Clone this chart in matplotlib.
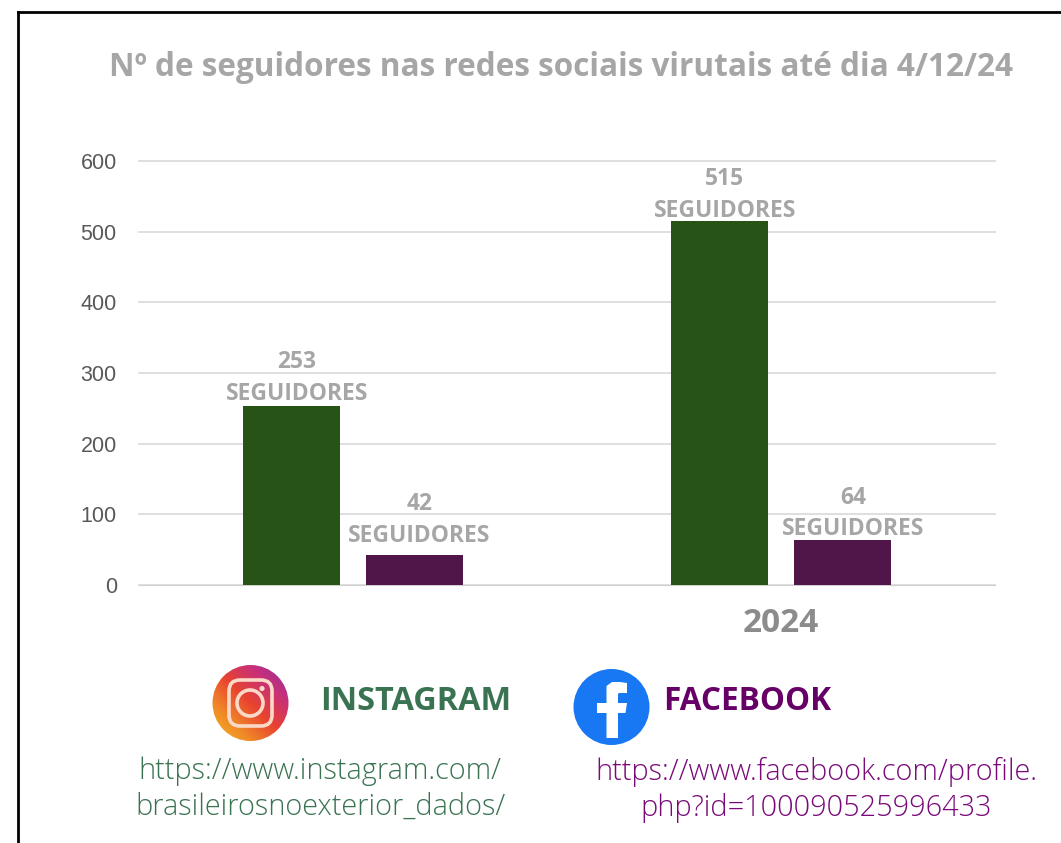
import numpy as np
import matplotlib
matplotlib.use('Agg')
import matplotlib.pyplot as plt
from matplotlib.patches import Circle, FancyBboxPatch, PathPatch
from matplotlib.path import Path
from matplotlib.colors import LinearSegmentedColormap

W, H = 1061, 843

instagram = [253, 515]
facebook = [42, 64]
labels_insta = ['253\nSEGUIDORES', '515\nSEGUIDORES']
labels_face = ['42\nSEGUIDORES', '64\nSEGUIDORES']
yticks = [0, 100, 200, 300, 400, 500, 600]
year = '2024'
title = 'Nº de seguidores nas redes sociais virutais até dia 4/12/24'
insta_url = 'https://www.instagram.com/\nbrasileirosnoexterior_dados/'
face_url = 'https://www.facebook.com/profile.\nphp?id=100090525996433'

plt.rcParams['font.family'] = ['Open Sans', 'DejaVu Sans']

fig = plt.figure(figsize=(W / 100, H / 100), dpi=100)
bg = fig.add_axes([0, 0, 1, 1])
bg.set_xlim(0, W)
bg.set_ylim(H, 0)
bg.axis('off')

# black frame, open at the bottom
bg.plot([18, 18], [H, 12], color='black', lw=2)
bg.plot([18, W], [12, 12], color='black', lw=2)

bg.text(561, 67, title, ha='center', va='center', fontsize=22.7,
        fontweight='bold', color='#A6A6A6')

# chart axes
ax = fig.add_axes([139 / W, 1 - 585 / H, (994.5 - 139) / W, (585 - 161) / H])
ax.patch.set_alpha(0)
xpos = np.array([0, 1])
bw = 0.2266
off = 0.1437
ax.bar(xpos - off, instagram, bw, color='#275317', zorder=3)
ax.bar(xpos + off, facebook, bw, color='#501549', zorder=3)
ax.set_xlim(-0.5, 1.5)
ax.set_ylim(0, 600)
ax.set_yticks(yticks)
ax.set_xticks([])
ax.grid(axis='y', color='#D9D9D9', lw=1.2, zorder=0)
for g in ax.get_ygridlines():
    g.set_clip_on(False)
ax.set_axisbelow(True)
for s in ['top', 'right', 'left']:
    ax.spines[s].set_visible(False)
ax.spines['bottom'].set_color('#D0D0D0')
ax.tick_params(axis='y', length=0, pad=16, labelsize=15.5, labelcolor='#595959')
for lab in ax.get_yticklabels():
    lab.set_family(['Liberation Sans'])

# labels sit a bit off the bar centres, offsets in pixels
dx_insta, dy_insta = [5.5, 5.5], [10, 8]
dx_face, dy_face = [5, 11], [17, 8]
for i in range(2):
    ax.annotate(labels_insta[i], (xpos[i] - off, instagram[i]),
                xytext=(dx_insta[i] * 0.72, dy_insta[i] * 0.72 - 7),
                textcoords='offset points', ha='center', va='bottom', fontsize=16.5,
                fontweight='bold', color='#A6A6A6', linespacing=1.42, zorder=5)
    ax.annotate(labels_face[i], (xpos[i] + off, facebook[i]),
                xytext=(dx_face[i] * 0.72, dy_face[i] * 0.72 - 7),
                textcoords='offset points', ha='center', va='bottom', fontsize=16.5,
                fontweight='bold', color='#A6A6A6', linespacing=1.42, zorder=5)

bg.text(781, 624, year, ha='center', va='center', fontsize=24,
        fontweight='bold', color='#8C8C8C')

# instagram logo: yellow bottom left, red middle, purple top right
cmap = LinearSegmentedColormap.from_list('ig', ['#F5B81F', '#F08A28', '#E8432F', '#C7307A', '#8E2FA0'])
yy, xx = np.mgrid[0:1:200j, 0:1:200j]
grad = cmap(np.clip((xx + (1 - yy)) / 2, 0, 1)[::-1])
im = bg.imshow(grad, extent=[212, 289, 741, 665], origin='lower', zorder=2, aspect='auto')
im.set_clip_path(Circle((250.5, 703), 38, transform=bg.transData))
bg.set_xlim(0, W)
bg.set_ylim(H, 0)
glyph = '#FBD9C8'
bg.add_patch(FancyBboxPatch((229, 680), 43, 46, boxstyle='round,pad=0,rounding_size=11',
                            fc='none', ec=glyph, lw=2.6, zorder=3))
bg.add_patch(Circle((250, 703), 13, fc='none', ec=glyph, lw=2.6, zorder=3))
bg.add_patch(Circle((262, 688.5), 2.6, fc=glyph, ec='none', zorder=3))

# facebook logo
bg.add_patch(Circle((611.5, 707), 38, fc='#1877F2', ec='none', zorder=2))
f_pts = [(606.5, 738), (606.5, 713), (597, 713), (597, 703), (606.5, 703), (606.5, 695),
         (606.5, 686), (612, 682), (620, 682), (627, 683), (627, 693), (622, 693),
         (618.5, 693), (618, 695), (618, 698), (618, 703), (627, 703), (625.5, 713),
         (618, 713), (618, 738), (606.5, 738)]
bg.add_patch(PathPatch(Path(f_pts), fc='white', ec='none', zorder=3))

bg.text(416, 701, 'INSTAGRAM', ha='center', va='center', fontsize=23.4,
        fontweight='bold', color='#3A7351')
bg.text(747, 701, 'FACEBOOK', ha='center', va='center', fontsize=22.7,
        fontweight='bold', color='#660066')
bg.text(320, 789, insta_url, ha='center', va='center', fontsize=20.8,
        fontweight='light', color='#3A7351', linespacing=1.28)
bg.text(816, 790, face_url, ha='center', va='center', fontsize=20.8,
        fontweight='light', color='#7A0A7A', linespacing=1.28)

fig.savefig('out.png', dpi=100)
